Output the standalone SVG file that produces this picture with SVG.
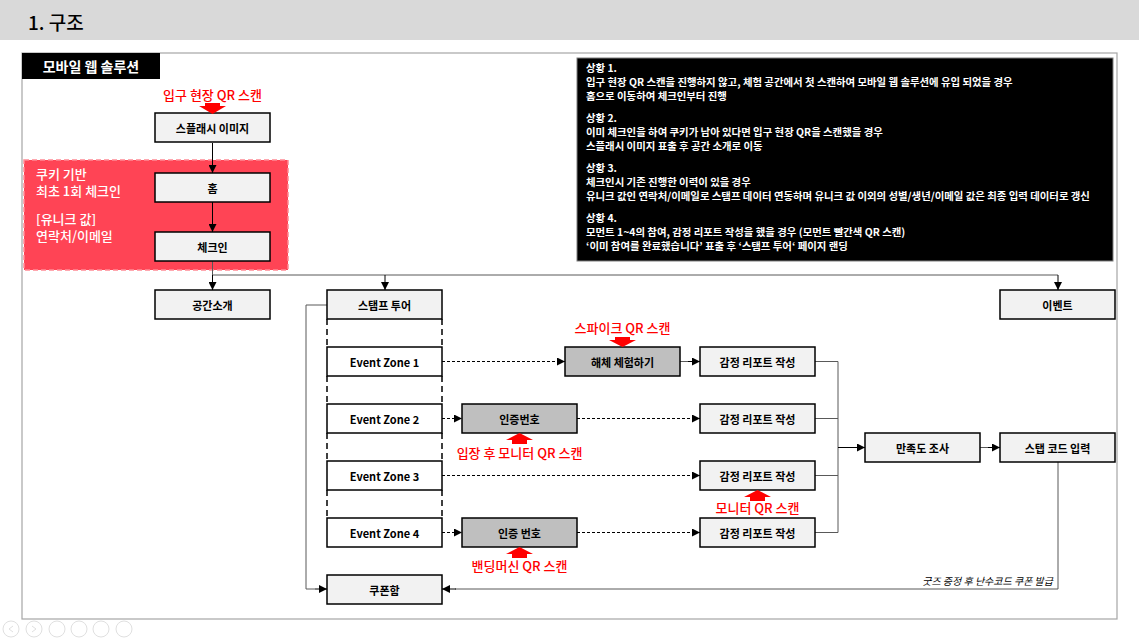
<svg xmlns="http://www.w3.org/2000/svg" width="1139" height="641" viewBox="0 0 1139 641">
<style>
text{font-family:"Noto Sans CJK KR","Liberation Sans",sans-serif}
.n{fill:#f2f2f2;stroke:#000;stroke-width:1.5}
.g{fill:#bfbfbf;stroke:#000;stroke-width:1.5}
.w{fill:#fff;stroke:#000;stroke-width:1.5}
.t{font-size:11px;font-weight:700;fill:#000;text-anchor:middle;dominant-baseline:central}
.r{font-size:13px;font-weight:500;fill:#ff0000;text-anchor:middle;dominant-baseline:central}
.s{fill:none;stroke:#000;stroke-width:1}
.sg{fill:none;stroke:#595959;stroke-width:1}
.d{fill:none;stroke:#000;stroke-width:1;stroke-dasharray:3,2}
.dv{fill:none;stroke:#000;stroke-width:1.5;stroke-dasharray:6,4}
.i{font-size:10.4px;font-weight:700;fill:#fff}
.c{font-size:13px;font-weight:500;fill:#fff;dominant-baseline:central}
.ra{fill:#ff0000}
</style>
<defs>
<marker id="a" viewBox="0 0 10 10" refX="10" refY="5" markerWidth="8" markerHeight="8" markerUnits="userSpaceOnUse" orient="auto"><path d="M0,0L10,5L0,10z" fill="#000"/></marker>
</defs>
<rect x="0" y="0" width="1139" height="40" fill="#d9d9d9"/>
<text x="28" y="21" font-size="19" font-weight="500" fill="#000" dominant-baseline="central">1. 구조</text>
<rect x="22" y="53" width="1095" height="566" fill="#fff" stroke="#a6a6a6" stroke-width="1.2"/>
<g id="title"><rect x="22" y="53" width="138" height="26" fill="#000"/><text x="91" y="66" font-size="14" font-weight="700" fill="#fff" text-anchor="middle" dominant-baseline="central">모바일 웹 솔루션</text></g>
<g id="info">
<rect x="577" y="58" width="536" height="203" fill="#000" stroke="#7f7f7f"/>
<text class="i" x="586" y="72">상황 1.</text>
<text class="i" x="586" y="86">입구 현장 QR 스캔을 진행하지 않고, 체험 공간에서 첫 스캔하여 모바일 웹 솔루션에 유입 되었을 경우</text>
<text class="i" x="586" y="100">홈으로 이동하여 체크인부터 진행</text>
<text class="i" x="586" y="122">상황 2.</text>
<text class="i" x="586" y="136">이미 체크인을 하여 쿠키가 남아 있다면 입구 현장 QR을 스캔했을 경우</text>
<text class="i" x="586" y="150">스플래시 이미지 표출 후 공간 소개로 이동</text>
<text class="i" x="586" y="172">상황 3.</text>
<text class="i" x="586" y="186">체크인시 기존 진행한 이력이 있을 경우</text>
<text class="i" x="586" y="200">유니크 값인 연락처/이메일로 스탬프 데이터 연동하며 유니크 값 이외의 성별/생년/이메일 값은 최종 입력 데이터로 갱신</text>
<text class="i" x="586" y="222">상황 4.</text>
<text class="i" x="586" y="236">모먼트 1~4의 참여, 감정 리포트 작성을 했을 경우 (모먼트 빨간색 QR 스캔)</text>
<text class="i" x="586" y="250">‘이미 참여를 완료했습니다’ 표출 후 ‘스탬프 투어‘ 페이지 랜딩</text>
</g>
<g id="cookie">
<rect x="24" y="160" width="264" height="110" fill="#ff4455" stroke="#ff8a95" stroke-width="1.5" stroke-dasharray="5,3"/>
<text class="c" x="36" y="173">쿠키 기반</text>
<text class="c" x="36" y="190">최초 1회 체크인</text>
<text class="c" x="36" y="218">[유니크 값]</text>
<text class="c" x="36" y="235">연락처/이메일</text>
</g>
<g id="connectors">
<path class="s" d="M212.5,143V173" marker-end="url(#a)"/>
<path class="s" d="M212.5,202V232" marker-end="url(#a)"/>
<path class="sg" d="M212.5,261V275H1058"/>
<path class="s" d="M212.5,275V290" marker-end="url(#a)"/>
<path class="s" d="M385,275V290" marker-end="url(#a)"/>
<path class="s" d="M1058,275V290" marker-end="url(#a)"/>
<path class="dv" d="M327,319V347M442,319V347M327,376V404M442,376V404M327,433V461M442,433V461M327,490V518M442,490V518"/>
<path class="sg" d="M327,305H306V589H315"/>
<path class="s" d="M315,589H327" marker-end="url(#a)"/>
<path class="d" d="M442,361.5H565" marker-end="url(#a)"/>
<path class="sg" d="M680,361.5H690"/><path class="s" d="M688,361.5H700" marker-end="url(#a)"/>
<path class="d" d="M442,418.5H462" marker-end="url(#a)"/>
<path class="d" d="M577,418.5H700" marker-end="url(#a)"/>
<path class="d" d="M442,475.5H700" marker-end="url(#a)"/>
<path class="d" d="M442,532.5H462" marker-end="url(#a)"/>
<path class="d" d="M577,532.5H700" marker-end="url(#a)"/>
<path class="sg" d="M815,361.5H838M815,418.5H838M815,475.5H838M815,532.5H838M838,361.5V532.5"/>
<path class="s" d="M838,447.5H865" marker-end="url(#a)"/>
<path class="sg" d="M980,447.5H990"/><path class="s" d="M988,447.5H1000" marker-end="url(#a)"/>
<path class="sg" d="M1058,462V589H455"/>
<path class="s" d="M456,589H442" marker-end="url(#a)"/>
<text x="1053" y="580" font-size="10" font-style="italic" fill="#000" text-anchor="end" dominant-baseline="central">굿즈 증정 후 난수코드 쿠폰 발급</text>
</g>
<g id="splash"><rect class="n" x="155" y="113" width="115" height="29"/><text class="t" x="212.5" y="128">스플래시 이미지</text>
<text class="r" x="212.5" y="94">입구 현장 QR 스캔</text><polygon class="ra" points="205,103 220,103 220,106 226,106 212.5,114 199,106 205,106"/></g>
<g id="home"><rect class="n" x="155" y="173" width="115" height="29"/><text class="t" x="212.5" y="188">홈</text></g>
<g id="checkin"><rect class="n" x="155" y="232" width="115" height="29"/><text class="t" x="212.5" y="247">체크인</text></g>
<g id="intro"><rect class="n" x="155" y="290" width="115" height="29"/><text class="t" x="212.5" y="305">공간소개</text></g>
<g id="stamp"><rect class="n" x="327" y="290" width="115" height="29"/><text class="t" x="384.5" y="305">스탬프 투어</text></g>
<g id="event"><rect class="n" x="1000" y="290" width="115" height="29"/><text class="t" x="1057.5" y="305">이벤트</text></g>
<g id="ez1"><rect class="w" x="327" y="347" width="115" height="29"/><text class="t" x="384.5" y="362">Event Zone 1</text></g>
<g id="ez2"><rect class="w" x="327" y="404" width="115" height="29"/><text class="t" x="384.5" y="419">Event Zone 2</text></g>
<g id="ez3"><rect class="w" x="327" y="461" width="115" height="29"/><text class="t" x="384.5" y="476">Event Zone 3</text></g>
<g id="ez4"><rect class="w" x="327" y="518" width="115" height="29"/><text class="t" x="384.5" y="533">Event Zone 4</text></g>
<g id="coupon"><rect class="n" x="327" y="575" width="115" height="29"/><text class="t" x="384.5" y="590">쿠폰함</text></g>
<g id="dismantle"><rect class="g" x="565" y="347" width="115" height="29"/><text class="t" x="622.5" y="362">해체 체험하기</text>
<text class="r" x="622.5" y="327">스파이크 QR 스캔</text><polygon class="ra" points="615,337 630,337 630,340 636,340 622.5,347 609,340 615,340"/></g>
<g id="auth1"><rect class="g" x="462" y="404" width="115" height="29"/><text class="t" x="519.5" y="419">인증번호</text>
<polygon class="ra" points="519.5,433 533,440 527,440 527,444 512,444 512,440 506,440"/><text class="r" x="519.5" y="452">입장 후 모니터 QR 스캔</text></g>
<g id="auth2"><rect class="g" x="462" y="518" width="115" height="29"/><text class="t" x="519.5" y="533">인증 번호</text>
<polygon class="ra" points="519.5,547 533,554 527,554 527,558 512,558 512,554 506,554"/><text class="r" x="519.5" y="565">밴딩머신 QR 스캔</text></g>
<g id="report1"><rect class="n" x="700" y="347" width="115" height="29"/><text class="t" x="757.5" y="362">감정 리포트 작성</text></g>
<g id="report2"><rect class="n" x="700" y="404" width="115" height="29"/><text class="t" x="757.5" y="419">감정 리포트 작성</text></g>
<g id="report3"><rect class="n" x="700" y="461" width="115" height="29"/><text class="t" x="757.5" y="476">감정 리포트 작성</text>
<polygon class="ra" points="757.5,490 771,497 765,497 765,501 750,501 750,497 744,497"/><text class="r" x="757.5" y="507">모니터 QR 스캔</text></g>
<g id="report4"><rect class="n" x="700" y="518" width="115" height="29"/><text class="t" x="757.5" y="533">감정 리포트 작성</text></g>
<g id="survey"><rect class="n" x="865" y="433" width="115" height="29"/><text class="t" x="922.5" y="448">만족도 조사</text></g>
<g id="staffcode"><rect class="n" x="1000" y="433" width="115" height="29"/><text class="t" x="1057.5" y="448">스탭 코드 입력</text></g>
<g id="controls" fill="none" stroke="#e0e0e0" stroke-width="1">
<circle cx="11" cy="629" r="8"/><circle cx="34" cy="629" r="8"/><circle cx="57" cy="629" r="8"/><circle cx="79" cy="629" r="8"/><circle cx="101" cy="629" r="8"/><circle cx="124" cy="629" r="8"/>
<path d="M13,626L9,629L13,632M32,626L36,629L32,632"/>
</g>
</svg>
